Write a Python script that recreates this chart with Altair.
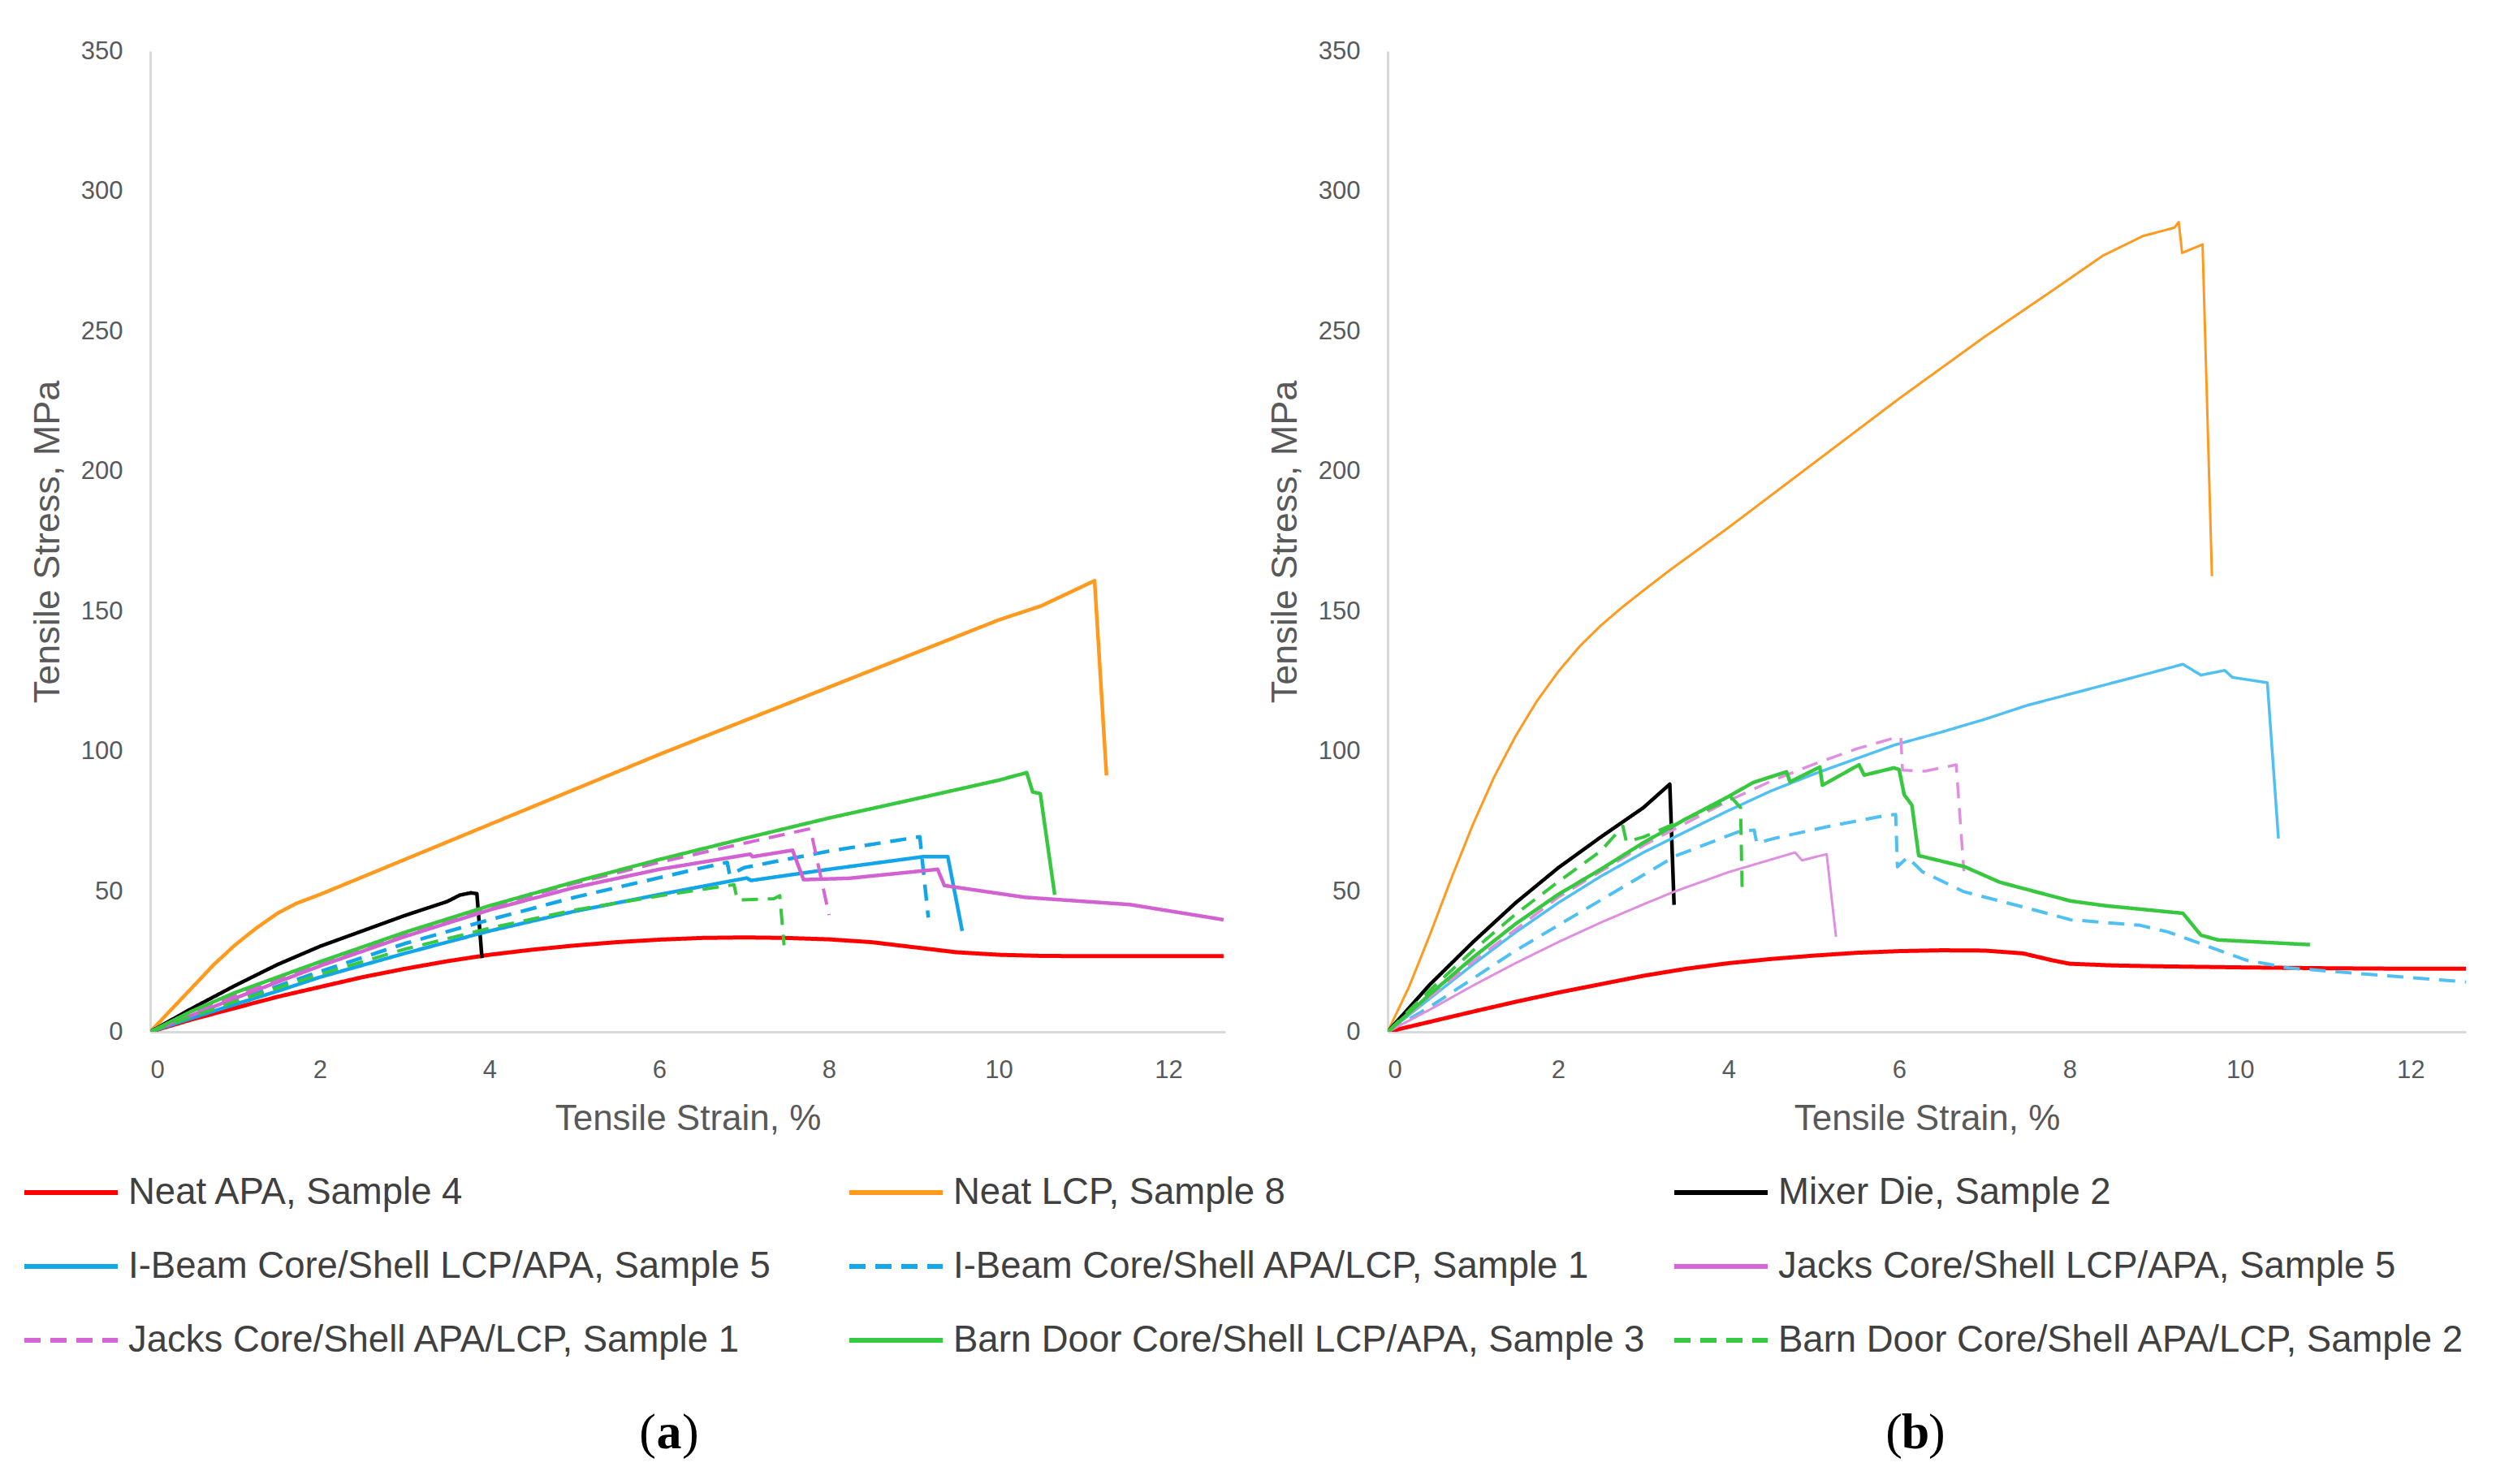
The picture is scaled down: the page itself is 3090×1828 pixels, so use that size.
import altair as alt
import pandas as pd

# ---------------- series names / styles ----------------
NAMES = [
    "Neat APA, Sample 4",
    "Neat LCP, Sample 8",
    "Mixer Die, Sample 2",
    "I-Beam Core/Shell LCP/APA, Sample 5",
    "I-Beam Core/Shell APA/LCP, Sample 1",
    "Jacks Core/Shell LCP/APA, Sample 5",
    "Jacks Core/Shell APA/LCP, Sample 1",
    "Barn Door Core/Shell LCP/APA, Sample 3",
    "Barn Door Core/Shell APA/LCP, Sample 2",
]
STYLES = ["solid", "solid", "solid", "solid", "dashed", "solid", "dashed", "solid", "dashed"]
LEGEND_COLORS = ["#ff0000", "#ff9a1e", "#000000", "#14a8ea", "#14a8ea",
                 "#d665d6", "#d665d6", "#35c944", "#35c944"]
A_COLORS = ["#ff0000", "#ff9a1e", "#000000", "#12a5e9", "#12a5e9",
            "#d261d2", "#d665d6", "#38c840", "#38c840"]
B_COLORS = ["#ff0000", "#ff9a1e", "#000000", "#4fc0f1", "#4fc0f1",
            "#e08ee0", "#e08ee0", "#38c840", "#38c840"]

# ---------------- panel (a) data ----------------
a_apa_x = [0, 0.5, 1, 1.5, 2, 2.5, 3, 3.5, 4, 4.5, 5, 5.5, 6, 6.5, 7, 7.5, 8, 8.5, 9, 9.5, 10, 10.5, 11, 12, 12.65]
a_apa_y = [0, 4.5, 8.5, 12.5, 16, 19.5, 22.5, 25.2, 27.5, 29.3, 30.8, 32, 32.9, 33.5, 33.7, 33.5, 33, 32, 30.2, 28.4, 27.5, 27.1, 27, 27, 27]

a_lcp_x = [0, 0.25, 0.5, 0.75, 1, 1.25, 1.5, 1.72, 2, 3, 4, 5, 6, 7, 8, 9, 10, 10.5, 11.13, 11.27]
a_lcp_y = [0, 8, 16, 24, 31, 37, 42.3, 45.8, 49, 61.5, 74, 86.5, 99, 111, 123, 135, 147, 152, 161, 91.5]

a_mix_x = [0, 0.5, 1, 1.5, 2, 2.5, 3, 3.5, 3.65, 3.78, 3.85, 3.91]
a_mix_y = [0, 8.5, 16.5, 24, 30.5, 36, 41.5, 46.5, 48.8, 49.6, 49.3, 26.3]

a_ibl_x = [0, 0.5, 1, 1.5, 2, 3, 4, 5, 6, 7.03, 7.08, 8, 9.11, 9.4, 9.57]
a_ibl_y = [0, 5, 9.8, 14.5, 19.5, 28, 36, 43, 49, 54.9, 54, 58, 62.5, 62.5, 36]

a_iba_x = [0, 0.5, 1, 2, 3, 4, 5, 6, 6.5, 6.8, 6.83, 7, 8, 9.07, 9.17]
a_iba_y = [0, 5.5, 11, 21.5, 31.5, 40, 48, 55, 58.5, 60.5, 56, 58.6, 64.5, 69.6, 40.8]

a_jkl_x = [0, 0.5, 1, 2, 3, 4, 5, 6, 7.07, 7.1, 7.57, 7.7, 8.24, 9.28, 9.36, 10.31, 11.55, 12.65]
a_jkl_y = [0, 6, 12, 23.5, 34, 43.5, 51.5, 58, 63.4, 62.5, 64.8, 54.3, 54.8, 58, 52.2, 48, 45.4, 40]

a_jka_x = [0, 0.5, 1, 2, 3, 4, 5, 6, 7, 7.78, 8.0]
a_jka_y = [0, 6.5, 13, 24.5, 35, 44.5, 53, 60.5, 67.3, 72.5, 41.7]

a_bdl_x = [0, 0.5, 1, 1.5, 2, 3, 4, 5, 6, 7, 8, 9, 10, 10.33, 10.4, 10.49, 10.66]
a_bdl_y = [0, 7.5, 14, 19.5, 25, 35.5, 45, 53.5, 61.5, 69, 76.3, 83, 89.8, 92.5, 85.6, 85, 48.9]

a_bda_x = [0, 0.5, 1, 2, 3, 4, 5, 6, 6.88, 6.92, 7.35, 7.42, 7.47]
a_bda_y = [0, 5.5, 10.8, 20.5, 29.5, 37, 43.5, 48.5, 52.5, 47, 47.5, 48.6, 30.9]

# ---------------- panel (b) data ----------------
b_apa_x = [0, 0.5, 1, 1.5, 2, 2.5, 3, 3.5, 4, 4.5, 5, 5.5, 6, 6.5, 7, 7.45, 7.8, 8, 8.5, 9, 10, 11, 12, 12.65]
b_apa_y = [0, 3.6, 7.2, 10.7, 14, 17, 20, 22.5, 24.5, 26, 27.2, 28.2, 28.8, 29.1, 29, 28, 25.5, 24.3, 23.7, 23.4, 23, 22.7, 22.5, 22.5]

b_lcp_x = [0, 0.25, 0.5, 0.75, 1, 1.25, 1.5, 1.75, 2, 2.25, 2.5, 2.75, 3, 3.32, 4, 5, 6, 7, 7.82, 8.39, 8.86, 9.23, 9.28, 9.32, 9.56, 9.67]
b_lcp_y = [0, 16, 35, 55, 74, 91, 105.5, 118, 128.5, 137.5, 145, 151.5, 157.5, 165, 180, 203, 226, 248, 265, 277, 284, 287, 289, 278, 281, 162.6]

b_mix_x = [0, 0.5, 1, 1.5, 2, 2.5, 3, 3.31, 3.36]
b_mix_y = [0, 17, 32, 46, 58.5, 69.5, 80, 88.4, 45.3]

b_ibl_x = [0, 0.5, 1, 1.5, 2, 2.5, 3, 3.5, 4, 4.5, 5, 5.5, 5.94, 6.5, 7, 7.5, 8, 8.5, 9, 9.33, 9.54, 9.82, 9.91, 10.32, 10.45]
b_ibl_y = [0, 12, 24, 35.5, 46, 55.5, 64, 71.5, 79, 86, 92, 97.5, 102.3, 107, 111.5, 116.5, 120.5, 124.5, 128.5, 131.2, 127.3, 129, 126.5, 124.6, 69]

b_iba_x = [0, 0.5, 1, 1.5, 2, 2.5, 3, 3.38, 4.14, 4.3, 4.33, 4.53, 5.2, 5.86, 5.96, 5.98, 6.1, 6.27, 6.76, 7.6, 8.01, 8.83, 9.16, 9.57, 10.07, 10.57, 11.73, 12.65]
b_iba_y = [0, 9, 19, 29, 38, 47, 56, 62.8, 71.7, 72, 67.3, 69, 73.5, 77.3, 77.6, 58.9, 62.3, 57.2, 50, 43.4, 40, 38, 35.6, 31.1, 25.6, 22.8, 20, 17.8]

b_jkl_x = [0, 0.5, 1, 1.5, 2, 2.5, 3, 3.36, 4, 4.5, 4.78, 4.86, 5.15, 5.26]
b_jkl_y = [0, 8, 16.5, 24.5, 32, 39, 45.5, 50, 57, 61.5, 64, 61.2, 63.4, 33.9]

b_jka_x = [0, 0.5, 1, 2, 3, 3.5, 4, 4.5, 5, 5.5, 5.9, 6.02, 6.04, 6.3, 6.67, 6.76]
b_jka_y = [0, 12.5, 25, 48, 66.5, 74.5, 82.5, 89.5, 95.5, 101, 104.5, 105, 93.4, 93, 95.3, 57.3]

b_bdl_x = [0, 0.5, 1, 1.5, 2, 2.5, 3, 3.5, 4, 4.29, 4.68, 4.72, 5.07, 5.1, 5.53, 5.59, 5.94, 6.0, 6.06, 6.15, 6.23, 6.31, 6.77, 7.18, 8.01, 8.42, 9.33, 9.54, 9.74, 10.82]
b_bdl_y = [0, 13.5, 26.5, 38.5, 49, 58, 67.5, 76, 84, 89, 92.8, 89.2, 94.5, 88, 95.3, 91.6, 94.2, 93.6, 84.6, 80.9, 62.9, 62.3, 58.9, 53.4, 46.7, 45, 42.3, 34.5, 32.8, 31.1]

b_bda_x = [0, 0.5, 1, 1.5, 2, 2.5, 2.76, 2.8, 3, 3.5, 4.04, 4.14, 4.16]
b_bda_y = [0, 15, 29, 42, 53.5, 64.5, 73.4, 67.8, 69.5, 76, 83.4, 80, 48.4]

X_TICKS = [0, 2, 4, 6, 8, 10, 12]
Y_TICKS = [0, 50, 100, 150, 200, 250, 300, 350]
PANEL_LETTERS = ["a", "b"]

# ---------------- layout / style constants ----------------
TITLE_FONT = "Liberation Sans"
TICK_FONT = "Liberation Sans"
AXIS_GRAY = "#595959"
PAD_LEFT, PAD_TOP = 19, 39
PLOT_H = 1208
A_W, B_W = 1324, 1328
A_XMAX, B_XMAX = 12.67, 12.65
HSPACE = 51
PLOT_LEFT = 185          # page x of the left plot's origin (legend group shares it)


def panel_df(series, colors, widths):
    rows = []
    for k, (xs, ys) in enumerate(series):
        for i, (x, y) in enumerate(zip(xs, ys)):
            rows.append({"series": NAMES[k], "k": k, "idx": i, "x": x, "y": y,
                         "col": colors[k], "style": STYLES[k], "sw": widths[k]})
    return pd.DataFrame(rows)


def axis_x():
    return alt.Axis(values=X_TICKS, title="Tensile Strain, %", grid=False, ticks=False, tickSize=0,
                    domainColor="#d9d9d9", domainWidth=3, labelFont=TICK_FONT, labelFontSize=31,
                    labelColor=AXIS_GRAY, labelPadding=32, titleFont=TITLE_FONT, titleFontSize=44,
                    titleFontWeight="normal", titleColor=AXIS_GRAY, titlePadding=23)


def axis_y():
    return alt.Axis(values=Y_TICKS, title="Tensile Stress, MPa", grid=False, ticks=False, tickSize=0,
                    domainColor="#d9d9d9", domainWidth=3, labelFont=TICK_FONT, labelFontSize=31,
                    labelColor=AXIS_GRAY, labelPadding=34, titleFont=TITLE_FONT, titleFontSize=45,
                    titleFontWeight="normal", titleColor=AXIS_GRAY, titlePadding=18)


def panel_chart(df, xmax, width):
    return alt.Chart(df).mark_line(clip=True, strokeJoin="round").encode(
        x=alt.X("x:Q", scale=alt.Scale(domain=[0, xmax], nice=False, zero=False), axis=axis_x()),
        y=alt.Y("y:Q", scale=alt.Scale(domain=[0, 350], nice=False), axis=axis_y()),
        color=alt.Color("col:N", scale=None),
        strokeDash=alt.StrokeDash("style:N", scale=alt.Scale(domain=["solid", "dashed"],
                                                             range=[[1, 0], [20, 12]]), legend=None),
        strokeWidth=alt.StrokeWidth("sw:Q", scale=None),
        detail="series:N",
        order="idx:Q",
    ).properties(width=width, height=PLOT_H)


A_SERIES = [(a_apa_x, a_apa_y), (a_lcp_x, a_lcp_y), (a_mix_x, a_mix_y), (a_ibl_x, a_ibl_y),
            (a_iba_x, a_iba_y), (a_jkl_x, a_jkl_y), (a_jka_x, a_jka_y), (a_bdl_x, a_bdl_y),
            (a_bda_x, a_bda_y)]
B_SERIES = [(b_apa_x, b_apa_y), (b_lcp_x, b_lcp_y), (b_mix_x, b_mix_y), (b_ibl_x, b_ibl_y),
            (b_iba_x, b_iba_y), (b_jkl_x, b_jkl_y), (b_jka_x, b_jka_y), (b_bdl_x, b_bdl_y),
            (b_bda_x, b_bda_y)]

A_WIDTHS = [5, 4.5, 4.5, 4.5, 4.5, 4.5, 4, 4.5, 4]
B_WIDTHS = [5, 3, 4.5, 3.5, 4, 3, 3.5, 4.5, 4]

chart_a = panel_chart(panel_df(A_SERIES, A_COLORS, A_WIDTHS), A_XMAX, A_W)
chart_b = panel_chart(panel_df(B_SERIES, B_COLORS, B_WIDTHS), B_XMAX, B_W)

# ---------------- legend + panel labels (page-like coordinates) ----------------
OX = PLOT_LEFT
OY = 1400
LW = 3082 - OX
LH = 1828 - 8 - OY - 8
COL_X0, COL_W, SW_LEN, TXT_GAP = 30, 1016, 115, 13
ROW_Y0, ROW_H = 1469, 91

leg_rows = []
for k, name in enumerate(NAMES):
    c, r = k % 3, k // 3
    x0 = COL_X0 + c * COL_W
    leg_rows.append({"name": name, "x0": x0, "x1": x0 + SW_LEN, "tx": x0 + SW_LEN + TXT_GAP,
                     "y": ROW_Y0 + r * ROW_H, "col": LEGEND_COLORS[k], "style": STYLES[k]})
leg_df = pd.DataFrame(leg_rows)

lab_df = pd.DataFrame({"letter": PANEL_LETTERS,
                       "x": [PLOT_LEFT + A_W / 2 - 23, 1709 + B_W / 2 - 14],
                       "y": [1765, 1765]})

lx = alt.Scale(domain=[OX, OX + LW], nice=False, zero=False)
ly = alt.Scale(domain=[OY, OY + LH], nice=False, zero=False, reverse=True)

leg_sw = alt.Chart(leg_df).mark_rule(strokeWidth=6).encode(
    x=alt.X("x0:Q", scale=lx, axis=None), x2="x1:Q",
    y=alt.Y("y:Q", scale=ly, axis=None),
    color=alt.Color("col:N", scale=None),
    strokeDash=alt.StrokeDash("style:N", scale=alt.Scale(domain=["solid", "dashed"],
                                                         range=[[1, 0], [28, 16]]), legend=None),
)
leg_tx = alt.Chart(leg_df).mark_text(align="left", baseline="middle", font=TITLE_FONT,
                                     fontSize=45.5, color="#404040").encode(
    x=alt.X("tx:Q", scale=lx, axis=None), y=alt.Y("y:Q", scale=ly, axis=None), text="name:N")

LAB_FS = 62
lab_base = alt.Chart(lab_df).encode(x=alt.X("x:Q", scale=lx, axis=None),
                                    y=alt.Y("y:Q", scale=ly, axis=None))
lab_letter = lab_base.mark_text(align="center", baseline="middle", font="Liberation Serif",
                                fontSize=LAB_FS, fontWeight="bold", color="#000000").encode(text="letter:N")
lab_open = lab_base.mark_text(align="right", baseline="middle", font="Liberation Serif",
                              fontSize=LAB_FS, dx=-16, color="#000000").encode(text=alt.value("("))
lab_close = lab_base.mark_text(align="left", baseline="middle", font="Liberation Serif",
                               fontSize=LAB_FS, dx=16, color="#000000").encode(text=alt.value(")"))

legend_chart = alt.layer(leg_sw, leg_tx, lab_letter, lab_open, lab_close).properties(width=LW, height=LH)

top = alt.hconcat(chart_a, chart_b, spacing=HSPACE)
chart = alt.vconcat(top, legend_chart, spacing=0).properties(
    padding={"left": PAD_LEFT, "top": PAD_TOP, "right": 0, "bottom": 0},
    background="white",
).configure_view(stroke=None)

chart.save("out.html", embed_options={"renderer": "svg", "actions": False})
